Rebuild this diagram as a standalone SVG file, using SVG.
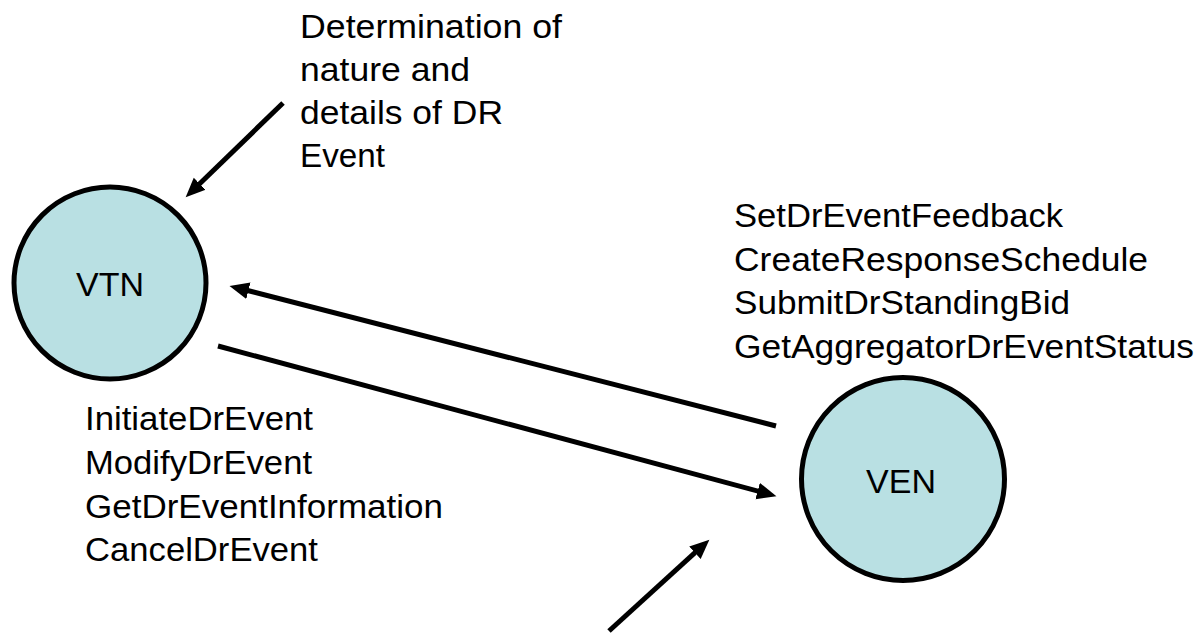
<svg xmlns="http://www.w3.org/2000/svg" width="1202" height="633" viewBox="0 0 1202 633">
<defs>
<style>
.node{fill:#B9E0E3;stroke:#000;stroke-width:5}
.lbl{font-family:"Liberation Sans",Arial,sans-serif;font-size:34px;fill:#000;text-anchor:middle}
.txt{font-family:"Liberation Sans",Arial,sans-serif;font-size:33px;fill:#000}
.conn{stroke:#000;stroke-width:5;fill:none;marker-end:url(#arr)}
</style>
<marker id="arr" markerUnits="userSpaceOnUse" markerWidth="20" markerHeight="18" viewBox="0 0 20 18" refX="9" refY="9" orient="auto">
<path d="M0,0.5 L19.5,9 L0,17.5 z" fill="#000"/>
</marker>
</defs>
<rect width="1202" height="633" fill="#fff"/>
<g id="connectors">
<line class="conn" x1="283" y1="103" x2="193.2" y2="190"/>
<line class="conn" x1="776" y1="426" x2="239.7" y2="288.5"/>
<line class="conn" x1="218" y1="346" x2="766.3" y2="493.4"/>
<line class="conn" x1="609" y1="631" x2="701.6" y2="546.7"/>
</g>
<g id="vtn">
<circle class="node" cx="110" cy="283" r="96"/>
<text class="lbl" x="110" y="296">VTN</text>
</g>
<g id="ven">
<circle class="node" cx="903" cy="479" r="101.5"/>
<text class="lbl" x="901" y="493">VEN</text>
</g>
<g id="note-top">
<text class="txt" x="300" y="38" textLength="262" lengthAdjust="spacingAndGlyphs">Determination of</text>
<text class="txt" x="300" y="81" textLength="170" lengthAdjust="spacingAndGlyphs">nature and</text>
<text class="txt" x="300" y="124" textLength="203" lengthAdjust="spacingAndGlyphs">details of DR</text>
<text class="txt" x="300" y="167" textLength="85" lengthAdjust="spacingAndGlyphs">Event</text>
</g>
<g id="ven-ops">
<text class="txt" x="734" y="227" textLength="329" lengthAdjust="spacingAndGlyphs">SetDrEventFeedback</text>
<text class="txt" x="734" y="271" textLength="414" lengthAdjust="spacingAndGlyphs">CreateResponseSchedule</text>
<text class="txt" x="734" y="314" textLength="336" lengthAdjust="spacingAndGlyphs">SubmitDrStandingBid</text>
<text class="txt" x="734" y="358" textLength="460" lengthAdjust="spacingAndGlyphs">GetAggregatorDrEventStatus</text>
</g>
<g id="vtn-ops">
<text class="txt" x="85" y="430" textLength="228" lengthAdjust="spacingAndGlyphs">InitiateDrEvent</text>
<text class="txt" x="85" y="474" textLength="227" lengthAdjust="spacingAndGlyphs">ModifyDrEvent</text>
<text class="txt" x="85" y="518" textLength="358" lengthAdjust="spacingAndGlyphs">GetDrEventInformation</text>
<text class="txt" x="85" y="561" textLength="233" lengthAdjust="spacingAndGlyphs">CancelDrEvent</text>
</g>
</svg>
